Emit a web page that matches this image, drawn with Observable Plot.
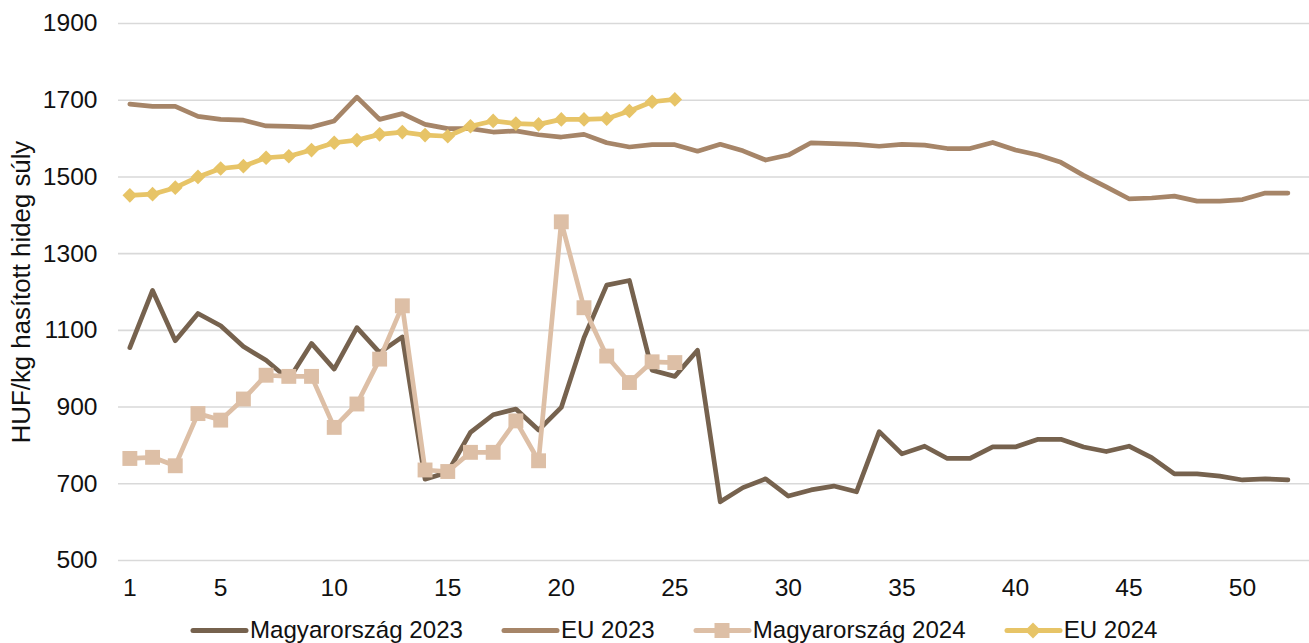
<!DOCTYPE html>
<html>
<head>
<meta charset="utf-8">
<script src="https://cdn.jsdelivr.net/npm/d3@7"></script>
<script src="https://cdn.jsdelivr.net/npm/@observablehq/plot@0.6"></script>
<style>
  html, body { margin: 0; padding: 0; background: #fff; overflow: hidden; }
  body { width: 1309px; height: 643px; font-family: "Liberation Sans", Arial, sans-serif; }
  #legend { display: flex; align-items: center; height: 40px; padding-left: 190px; font-size: 24.1px; color: #111; }
  .item { display: flex; align-items: center; margin-right: 38px; }
  .item svg { margin-right: 1px; }
</style>
</head>
<body>
<div id="chart"></div>
<div id="legend"></div>
<script>
// Categories (weeks)
const weeks = [1,2,3,4,5,6,7,8,9,10,11,12,13,14,15,16,17,18,19,20,21,22,23,24,25,26,
  27,28,29,30,31,32,33,34,35,36,37,38,39,40,41,42,43,44,45,46,47,48,49,50,51,52];

// Series values (HUF/kg)
const mo2023 = [1055,1204,1073,1144,1112,1058,1022,972,1066,999,1107,1042,1083,712,730,834,880,895,840,899,1081,1218,1230,996,980,1048,
  653,690,713,668,684,694,679,836,778,798,766,766,796,796,816,816,796,784,798,768,726,726,720,710,713,710];
const eu2023 = [1690,1684,1684,1658,1650,1648,1633,1632,1630,1646,1708,1650,1665,1637,1626,1626,1617,1620,1610,1604,1611,1589,1578,1584,1584,1567,
  1585,1568,1544,1557,1589,1587,1585,1580,1585,1583,1574,1574,1590,1570,1557,1538,1504,1474,1443,1445,1450,1437,1437,1441,1458,1458];
const mo2024 = [766,769,747,883,866,921,983,980,980,847,908,1025,1164,736,732,782,782,864,760,1383,1159,1033,964,1018,1016];
const eu2024 = [1452,1455,1472,1500,1522,1528,1550,1554,1570,1589,1596,1611,1617,1609,1606,1632,1646,1639,1637,1650,1650,1652,1672,1696,1702];

// Tick labels
const xTicks = [1,5,10,15,20,25,30,35,40,45,50];
const yTicks = [500,700,900,1100,1300,1500,1700,1900];

const seriesNames = ["Magyarország 2023","EU 2023","Magyarország 2024","EU 2024"];
const colors = ["#76624e","#a68568","#ddbfa6","#e7c467"];

const toRows = (vals, name) => vals.map((v, i) => ({week: weeks[i], value: v, series: name}));
const rMo23 = toRows(mo2023, seriesNames[0]);
const rEu23 = toRows(eu2023, seriesNames[1]);
const rMo24 = toRows(mo2024, seriesNames[2]);
const rEu24 = toRows(eu2024, seriesNames[3]);

const lineOpts = (c) => ({x: "week", y: "value", stroke: c, strokeWidth: 4.7, strokeLinejoin: "round", strokeLinecap: "round"});

const chart = Plot.plot({
  width: 1309,
  height: 610,
  marginLeft: 118,
  marginRight: 0,
  marginTop: 23,
  marginBottom: 50,
  style: {fontFamily: "'Liberation Sans', Arial, sans-serif", fontSize: "24.6px", color: "#111", background: "#fff"},
  x: {domain: [0.5, 52.95]},
  y: {domain: [500, 1900]},
  marks: [
    Plot.ruleY(yTicks, {stroke: "#d9d9d9", strokeWidth: 1.6}),
    Plot.axisY({ticks: yTicks, tickSize: 0, tickPadding: 21, tickFormat: d => String(d), label: null}),
    Plot.axisY({ticks: [], tickSize: 0, label: "HUF/kg hasított hideg súly", labelAnchor: "center", labelArrow: "none", labelOffset: 107, fontSize: "25.8px"}),
    Plot.axisX({ticks: xTicks, tickSize: 0, tickPadding: 18, label: null, tickFormat: d => String(d)}),
    Plot.line(rMo23, lineOpts(colors[0])),
    Plot.line(rEu23, lineOpts(colors[1])),
    Plot.line(rMo24, lineOpts(colors[2])),
    Plot.dot(rMo24, {x: "week", y: "value", symbol: "square", r: 8.4, fill: colors[2], stroke: "none"}),
    Plot.line(rEu24, lineOpts(colors[3])),
    Plot.dot(rEu24, {x: "week", y: "value", symbol: "diamond2", r: 6.6, fill: colors[3], stroke: "none"})
  ]
});
document.getElementById("chart").appendChild(chart);

// Legend
const legend = document.getElementById("legend");
seriesNames.forEach((name, i) => {
  const item = document.createElement("div");
  item.className = "item";
  let marker = "";
  if (i === 2) marker = `<rect x="21.5" y="2" width="15" height="15" fill="${colors[i]}"/>`;
  if (i === 3) marker = `<path d="M29,1.5 L37,9.5 L29,17.5 L21,9.5 Z" fill="${colors[i]}"/>`;
  item.innerHTML = `<svg width="59" height="19"><line x1="3" y1="9.5" x2="56" y2="9.5" stroke="${colors[i]}" stroke-width="5" stroke-linecap="round"/>${marker}</svg><span>${name}</span>`;
  legend.appendChild(item);
});
</script>
</body>
</html>
